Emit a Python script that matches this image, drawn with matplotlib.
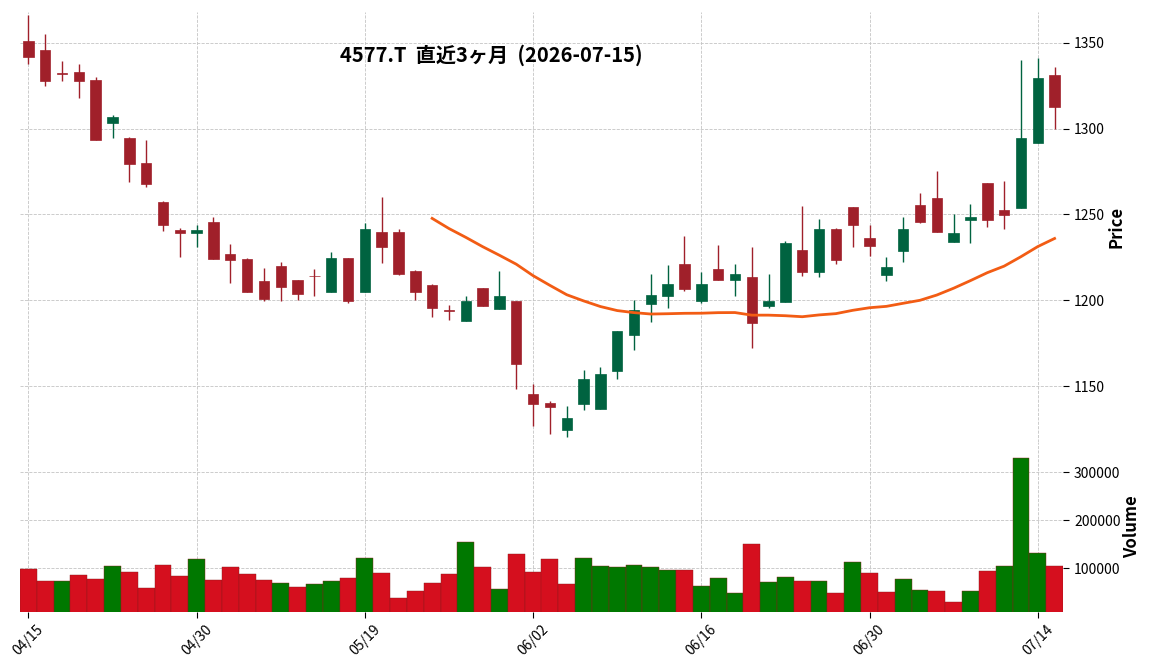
import numpy as np
import pandas as pd
import matplotlib
matplotlib.use("Agg")
import matplotlib.pyplot as plt
from matplotlib.ticker import MultipleLocator

plt.rcParams['font.family'] = ['Noto Sans CJK JP', 'DejaVu Sans']

dates = [
    "04/15", "04/16", "04/17", "04/20", "04/21", "04/22", "04/23", "04/24", "04/27", "04/28",
    "04/30", "05/01", "05/07", "05/08", "05/11", "05/12", "05/13", "05/14", "05/15", "05/18",
    "05/19", "05/20", "05/21", "05/22", "05/25", "05/26", "05/27", "05/28", "05/29", "06/01",
    "06/02", "06/03", "06/04", "06/05", "06/08", "06/09", "06/10", "06/11", "06/12", "06/15",
    "06/16", "06/17", "06/18", "06/19", "06/22", "06/23", "06/24", "06/25", "06/26", "06/29",
    "06/30", "07/01", "07/02", "07/03", "07/06", "07/07", "07/08", "07/09", "07/10", "07/13",
    "07/14", "07/15",
]

opens = [
    1350.8, 1345.5, 1332.4, 1332.8, 1328.1, 1303.3, 1294.6, 1279.8, 1257.4, 1240.9,
    1239.3, 1245.7, 1226.9, 1224.2, 1211.2, 1220.0, 1211.8, 1214.4, 1204.8, 1224.6,
    1204.8, 1239.7, 1239.7, 1217.2, 1208.9, 1194.5, 1188.2, 1207.2, 1195.2, 1199.6,
    1145.5, 1140.3, 1124.8, 1139.9, 1136.8, 1159.1, 1180.0, 1198.1, 1202.7, 1221.1,
    1199.8, 1218.2, 1212.0, 1213.6, 1196.9, 1199.2, 1229.3, 1216.7, 1241.5, 1254.3,
    1236.2, 1214.9, 1228.9, 1255.4, 1259.5, 1234.1, 1246.9, 1268.2, 1252.5, 1253.7,
    1291.5, 1331.0,
]
highs = [
    1366.3, 1355.2, 1339.3, 1337.8, 1329.7, 1308.1, 1295.0, 1293.6, 1257.8, 1242.2,
    1243.6, 1248.3, 1232.6, 1224.4, 1218.6, 1222.5, 1212.0, 1218.4, 1227.9, 1224.8,
    1245.3, 1259.9, 1241.3, 1217.4, 1209.7, 1197.1, 1202.3, 1207.4, 1217.0, 1199.8,
    1151.2, 1141.7, 1138.4, 1159.3, 1161.0, 1182.2, 1200.0, 1215.1, 1220.3, 1237.2,
    1216.7, 1232.0, 1220.9, 1231.2, 1215.1, 1234.5, 1255.2, 1247.1, 1241.9, 1254.5,
    1244.0, 1225.0, 1248.7, 1262.2, 1275.0, 1250.0, 1255.8, 1268.4, 1269.2, 1340.1,
    1341.3, 1336.0,
]
lows = [
    1337.8, 1325.0, 1327.9, 1318.0, 1293.2, 1294.2, 1269.0, 1265.7, 1240.5, 1225.4,
    1230.8, 1223.8, 1209.9, 1205.0, 1199.6, 1199.6, 1200.0, 1202.3, 1204.8, 1198.3,
    1204.8, 1221.7, 1214.7, 1200.2, 1190.1, 1188.4, 1188.2, 1196.7, 1195.2, 1148.3,
    1127.1, 1122.0, 1120.3, 1136.2, 1136.8, 1154.1, 1170.9, 1187.2, 1195.5, 1205.2,
    1198.6, 1212.0, 1202.5, 1172.3, 1195.3, 1199.2, 1214.0, 1213.4, 1220.9, 1231.2,
    1226.0, 1211.0, 1222.1, 1245.2, 1239.9, 1234.1, 1233.1, 1242.8, 1241.7, 1253.7,
    1291.5, 1300.0,
]
closes = [
    1341.7, 1327.7, 1332.0, 1327.7, 1293.2, 1306.6, 1279.3, 1267.8, 1243.8, 1239.3,
    1241.1, 1224.2, 1223.6, 1205.0, 1200.8, 1208.0, 1203.9, 1214.0, 1224.6, 1199.8,
    1241.5, 1231.2, 1215.3, 1205.0, 1195.7, 1194.0, 1199.6, 1196.7, 1202.3, 1163.2,
    1139.9, 1138.2, 1131.6, 1154.3, 1157.2, 1182.2, 1194.4, 1203.1, 1209.5, 1206.8,
    1209.5, 1212.0, 1215.3, 1187.0, 1199.6, 1233.3, 1216.7, 1241.5, 1223.6, 1244.0,
    1231.8, 1219.4, 1241.5, 1245.7, 1239.9, 1239.1, 1248.8, 1246.7, 1249.6, 1294.6,
    1329.3, 1312.4,
]
volumes = [
    98600, 74100, 74100, 86400, 78200, 104800, 92500, 59800, 106800, 84300,
    119100, 76100, 102700, 88400, 76100, 70000, 61800, 68000, 74100, 80200,
    121100, 90500, 39300, 53600, 70000, 88400, 153900, 102700, 57700, 129300,
    92500, 119100, 67600, 120500, 104100, 102000, 106100, 102000, 95900, 95900,
    63100, 79500, 48800, 151200, 71300, 81600, 73400, 73400, 48800, 112300,
    89800, 50900, 77500, 55000, 52900, 31000, 52900, 93900, 104100, 329400,
    132800, 104100,
]

title = "4577.T  直近3ヶ月  (2026-07-15)"

UP = "#006340"
DOWN = "#a0202a"
VOL_UP = "#007800"
VOL_DOWN = "#d50f1e"
MA_COLOR = "#f25c14"
GRID = "#c4c4c4"

o = np.array(opens)
h = np.array(highs)
l = np.array(lows)
c = np.array(closes)
v = np.array(volumes)
x = np.arange(len(dates))

W, H = 1152, 670
fig = plt.figure(figsize=(W / 100, H / 100), dpi=100)
left, right = 20 / W, 1063 / W
ax_p = fig.add_axes([left, 1 - 442 / H, right - left, (442 - 12) / H])
ax_v = fig.add_axes([left, 1 - 612 / H, right - left, (612 - 442) / H], sharex=ax_p)

# candles
up = c >= o
ccol = np.where(up, UP, DOWN)
ax_p.vlines(x, l, h, colors=ccol, linewidth=1.0, zorder=2)
bottoms = np.minimum(o, c)
heights = np.maximum(np.abs(c - o), 0.4)
ax_p.bar(x, heights, bottom=bottoms, width=0.62, color=ccol,
         edgecolor=ccol, linewidth=0.5, zorder=3)

# 25-day moving average of closes
ma = pd.Series(c).rolling(25).mean()
ax_p.plot(x, ma, color=MA_COLOR, linewidth=2.0, zorder=4)

# volume, colored by close vs previous close
prev = np.concatenate([[o[0]], c[:-1]])
vcol = np.where(c >= prev, VOL_UP, VOL_DOWN)
ax_v.bar(x, v, width=1.0, color=vcol, edgecolor="#8a1a1a", linewidth=0.3, zorder=3)

ax_p.set_xlim(-0.5, len(x) - 0.5)
ax_p.set_ylim(1117.6, 1367.8)
ax_v.set_ylim(0.3 * v.min(), 1.1 * v.max())

for ax in (ax_p, ax_v):
    for s in ax.spines.values():
        s.set_visible(False)
    ax.grid(True, linestyle="--", color=GRID, linewidth=0.6, zorder=0)
    ax.set_axisbelow(True)
    ax.yaxis.tick_right()
    ax.yaxis.set_label_position("right")
    ax.tick_params(axis="y", labelsize=10, length=4, width=0.8, pad=4)

ticks = list(range(0, len(x), 10))
ax_v.set_xticks(ticks)
ax_v.set_xticklabels([dates[i] for i in ticks], rotation=45, fontsize=10)
ax_v.tick_params(axis="x", length=4, width=0.8)
ax_p.tick_params(axis="x", length=0, labelbottom=False)

ax_p.yaxis.set_major_locator(MultipleLocator(50))
ax_v.yaxis.set_major_locator(MultipleLocator(100000))
ax_v.ticklabel_format(axis="y", style="plain")

ax_p.set_ylabel("Price", fontsize=12, fontweight="bold", labelpad=2)
ax_v.set_ylabel("Volume", fontsize=12, fontweight="bold", labelpad=2)

fig.text(491 / W, 1 - 55 / H, title, ha="center", va="center",
         fontsize=14.5, fontweight="bold")

fig.savefig("out.png", dpi=100)
